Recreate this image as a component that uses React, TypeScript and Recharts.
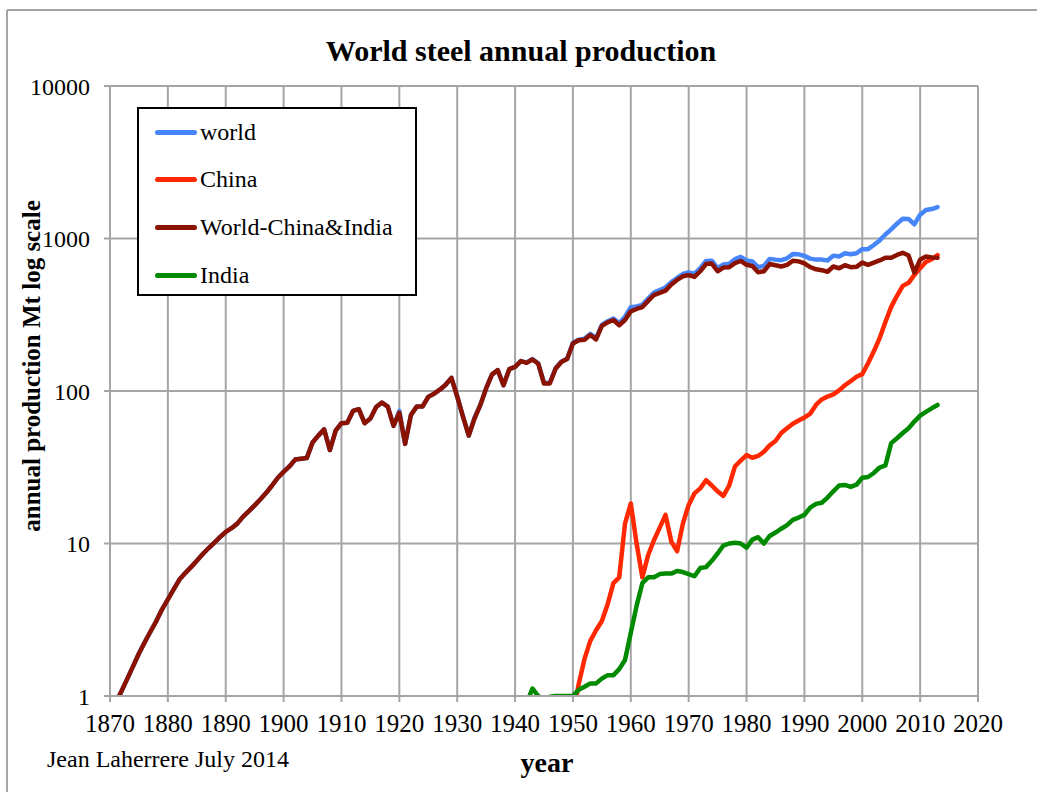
import React from 'react';
import { LineChart, Line, XAxis, YAxis, CartesianGrid, Legend } from 'recharts';

// yearly production, million tonnes
const firstYear = 1870;
const lastYear = 2013;

const worldMt = [
  0.75, 0.9, 1.08, 1.3, 1.57, 1.9, 2.25, 2.65, 3.1, 3.7,
  4.3, 5.0, 5.8, 6.4, 7.0, 7.7, 8.5, 9.3, 10.1, 11.0,
  11.9, 12.6, 13.5, 15.0, 16.3, 17.8, 19.5, 21.5, 24, 27,
  29.5, 32, 35.5, 36, 36.3, 46, 51, 56, 41, 55,
  61.5, 62, 74, 76, 61.5, 66, 78.5, 84, 79, 59,
  74, 45, 69.5, 79, 79, 91.5, 96, 102, 110, 122,
  92, 68, 51, 67, 81, 104, 128, 137, 109, 139,
  144, 157, 154, 162, 152, 113, 113, 141, 156, 163,
  207, 217, 220, 237, 222, 271, 287, 299, 278, 307,
  354, 359, 367, 404, 442, 459, 477, 517, 551, 585,
  599, 587, 640, 713, 716, 640, 675, 682, 732, 757,
  719, 707, 649, 660, 735, 727, 721, 742, 790, 787,
  770, 738, 727, 727, 717, 772, 763, 801, 788, 800,
  851, 851, 906, 972, 1063, 1148, 1250, 1348, 1343, 1239,
  1433, 1538, 1560, 1607,
];

// world minus China and India
const restMt = [
  0.75, 0.9, 1.08, 1.3, 1.57, 1.9, 2.25, 2.65, 3.1, 3.7,
  4.3, 5.0, 5.8, 6.4, 7.0, 7.7, 8.5, 9.3, 10.1, 11.0,
  11.9, 12.6, 13.5, 15.0, 16.3, 17.8, 19.5, 21.5, 24, 27,
  29.5, 32, 35.5, 36, 36.3, 46, 51, 56, 41, 55,
  61.5, 62, 74, 76, 61.5, 66, 78.5, 84, 79, 59,
  72, 45, 69.5, 79, 79, 91.5, 96, 102, 110, 122,
  92, 68, 51, 66, 81, 104, 128, 137, 109, 139,
  144, 157, 153, 161, 151, 112, 112, 140, 155, 162,
  205, 215, 217, 233, 218, 267, 282, 292, 270, 292,
  333, 345, 355, 390, 426, 440, 455, 500, 535, 565,
  575, 560, 610, 680, 685, 610, 645, 648, 690, 712,
  672, 660, 600, 610, 680, 668, 655, 672, 715, 708,
  688, 650, 628, 620, 605, 655, 638, 668, 648, 652,
  695, 672, 695, 718, 748, 747, 780, 806, 774, 599,
  725, 763, 752, 747,
];

const chinaStart = 1950;
const chinaMt = [
  0.75, 1.2, 1.75, 2.3, 2.7, 3.1, 4.0, 5.5, 6.0, 13.5,
  18.3, 10, 6.0, 8.4, 10.5, 12.7, 15.4, 10.3, 8.9, 13.5,
  17.9, 21.3, 23, 26, 24, 22, 20.5, 24, 32, 35,
  38, 36.5, 37.5, 40, 44, 47, 53, 57, 61, 64,
  67, 71, 81, 88, 92, 95, 101, 109, 116, 124,
  129, 152, 182, 222, 283, 356, 421, 489, 512, 577,
  639, 702, 731, 779,
];

const indiaStart = 1942;
const indiaMt = [
  0.9, 1.12, 1.0, 0.95, 0.99, 1.0, 1.0, 1.0,
  1.0, 1.1, 1.15, 1.21, 1.21, 1.3, 1.37, 1.37, 1.5, 1.72,
  2.6, 3.9, 5.5, 6.0, 6.0, 6.3, 6.35, 6.35, 6.6, 6.5,
  6.3, 6.1, 6.9, 7.0, 7.7, 8.6, 9.7, 10.0, 10.1, 10.0,
  9.4, 10.6, 11.0, 10.0, 11.2, 11.8, 12.5, 13.2, 14.3, 14.8,
  15.4, 17.2, 18.2, 18.5, 20, 22, 24, 24.2, 23.5, 24.3,
  27, 27.3, 29, 31.5, 32.5, 45.5, 49, 53, 57, 63,
  69, 73, 77, 81,
];

const yearTicks = [1870, 1880, 1890, 1900, 1910, 1920, 1930, 1940, 1950, 1960, 1970, 1980, 1990, 2000, 2010, 2020];
const mtTicks = [1, 10, 100, 1000, 10000];

const series = [
  { key: 'world', name: 'world', color: '#4785FA' },
  { key: 'china', name: 'China', color: '#FF2800' },
  { key: 'rest', name: 'World-China&India', color: '#8C1200' },
  { key: 'india', name: 'India', color: '#008A00' },
];

const rows = [];
for (let y = firstYear; y <= lastYear; y++) {
  const i = y - firstYear;
  rows.push({
    year: y,
    world: worldMt[i],
    rest: restMt[i],
    china: y >= chinaStart ? chinaMt[y - chinaStart] : null,
    india: y >= indiaStart ? indiaMt[y - indiaStart] : null,
  });
}

const gridGray = '#a5a5a5';
const serif = '"Liberation Serif", "Times New Roman", serif';

// boxed legend, kept in series order
const LegendBox = () => (
  <div
    style={{
      width: 276,
      height: 185,
      border: '2px solid #000',
      background: '#fff',
      fontFamily: serif,
      fontSize: 24,
      position: 'relative',
    }}
  >
    {series.map((s, i) => (
      <div
        key={s.key}
        style={{ position: 'absolute', left: 16, top: 8 + i * 47.7, height: 30, display: 'flex', alignItems: 'center' }}
      >
        <div style={{ width: 42, height: 5, borderRadius: 3, background: s.color }} />
        <span style={{ marginLeft: 3, color: '#000', fontFamily: serif }}>{s.name}</span>
      </div>
    ))}
  </div>
);

export default function App() {
  return (
    <div
      style={{
        position: 'absolute',
        left: 0,
        top: 0,
        width: 1037,
        height: 792,
        background: '#fff',
        overflow: 'hidden',
        fontFamily: serif,
      }}
    >
      <svg width={1037} height={792} style={{ position: 'absolute', left: 0, top: 0 }}>
        <line x1={7} y1={10} x2={1037} y2={10} stroke={gridGray} strokeWidth={2} />
        <line x1={7} y1={10} x2={7} y2={792} stroke={gridGray} strokeWidth={2} />
        <text x={521} y={61} textAnchor="middle" fontFamily={serif} fontWeight="bold" fontSize={30}>
          World steel annual production
        </text>
        <text
          x={40}
          y={366}
          transform="rotate(-90 40 366)"
          textAnchor="middle"
          fontFamily={serif}
          fontWeight="bold"
          fontSize={25}
        >
          annual production Mt log scale
        </text>
        <text x={547} y={772} textAnchor="middle" fontFamily={serif} fontWeight="bold" fontSize={28}>
          year
        </text>
        <text x={47} y={767} fontFamily={serif} fontSize={24}>
          Jean Laherrere July 2014
        </text>
      </svg>
      <div style={{ position: 'absolute', left: 0, top: 0 }}>
        <LineChart
          width={1037}
          height={792}
          data={rows}
          margin={{ top: 86, right: 59, bottom: 36, left: 0 }}
          style={{ fontFamily: serif }}
        >
          <CartesianGrid stroke={gridGray} strokeWidth={2} />
          <XAxis
            dataKey="year"
            type="number"
            domain={[1870, 2020]}
            ticks={yearTicks}
            interval={0}
            height={60}
            stroke={gridGray}
            strokeWidth={2}
            tickSize={6}
            tickMargin={12}
            tick={{ fill: '#000', fontSize: 25, fontFamily: serif }}
          />
          <YAxis
            type="number"
            scale="log"
            domain={[1, 10000]}
            ticks={mtTicks}
            interval={0}
            allowDataOverflow
            width={110}
            stroke={gridGray}
            strokeWidth={2}
            tickSize={6}
            tickMargin={14}
            tick={{ fill: '#000', fontSize: 24, fontFamily: serif }}
          />
          <Legend
            layout="vertical"
            align="center"
            verticalAlign="middle"
            wrapperStyle={{ left: 137, top: 107, width: 280 }}
            content={<LegendBox />}
          />
          {series.map((s) => (
            <Line
              key={s.key}
              dataKey={s.key}
              name={s.name}
              stroke={s.color}
              strokeWidth={4.5}
              strokeLinejoin="round"
              strokeLinecap="round"
              dot={false}
              activeDot={false}
              isAnimationActive={false}
            />
          ))}
        </LineChart>
      </div>
    </div>
  );
}
